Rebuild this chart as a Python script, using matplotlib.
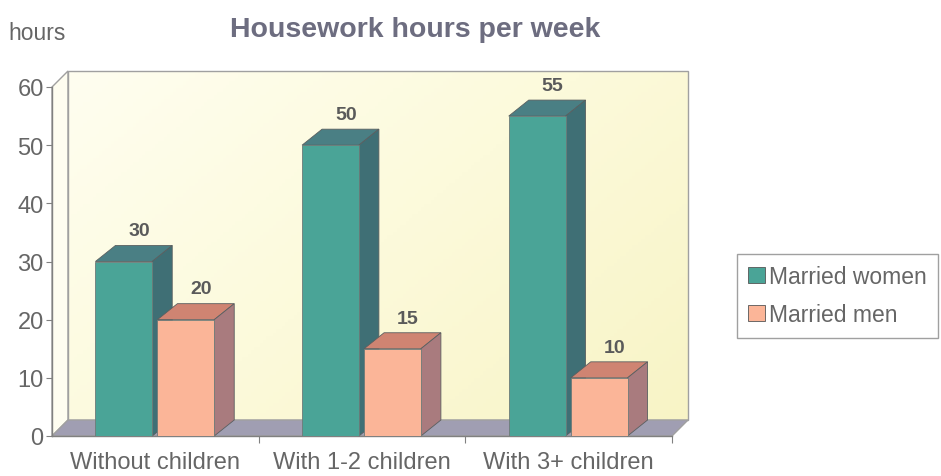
import matplotlib
matplotlib.use("Agg")
import matplotlib.pyplot as plt
import numpy as np
from matplotlib.colors import LinearSegmentedColormap
from matplotlib.patches import Polygon, Patch

categories = ["Without children", "With 1-2 children", "With 3+ children"]
women = [30, 50, 55]
men = [20, 15, 10]
series_names = ["Married women", "Married men"]
yticks = [0, 10, 20, 30, 40, 50, 60]

# colours: front / top / side faces
WOMEN_C = ("#4aa497", "#4a7f84", "#3f6f75")
MEN_C = ("#fbb598", "#cf8472", "#a97b7e")
TEXT_C = "#666666"
AXIS_C = "#808080"

W, H, DPI = 941, 477, 100
plt.rcParams["font.family"] = ["Liberation Sans", "DejaVu Sans"]
fig = plt.figure(figsize=(W / DPI, H / DPI), dpi=DPI)

# front plane of the plot box, in pixels
left_px, right_px, bottom_px, top_px = 52, 672, 437, 88
ax = fig.add_axes([left_px / W, 1 - bottom_px / H,
                   (right_px - left_px) / W, (bottom_px - top_px) / H])
ax.set_xlim(-0.5, len(categories) - 0.5)
ax.set_ylim(0, 60)
ax.set_facecolor("none")

ux = (len(categories)) / (right_px - left_px)
uy = 60 / (bottom_px - top_px)


def depth(dx_px, dy_px):
    return dx_px * ux, dy_px * uy


wdx, wdy = depth(16, 16)   # wall / floor depth
bdx, bdy = depth(20, 16)   # bar depth
x_lo, x_hi = ax.get_xlim()
y_hi = ax.get_ylim()[1]

# back wall with a soft diagonal yellow fill
wall_kw = dict(closed=True, clip_on=False, linewidth=1.0, edgecolor="#a0a0a0")
back = Polygon([(x_lo + wdx, wdy), (x_hi + wdx, wdy), (x_hi + wdx, y_hi + wdy),
                (x_lo + wdx, y_hi + wdy)], facecolor="none", zorder=0.3, **wall_kw)
ax.add_patch(back)
gx, gy = np.meshgrid(np.linspace(0, 1, 200), np.linspace(0, 1, 100))
grad = 0.6 * gx + 0.4 * gy
wall_cmap = LinearSegmentedColormap.from_list("wall", ["#fffef0", "#fcfadb", "#f8f4c6"])
img = ax.imshow(grad, cmap=wall_cmap, origin="upper", aspect="auto", zorder=0,
                extent=(x_lo + wdx, x_hi + wdx, wdy, y_hi + wdy), clip_path=back)
img.set_clip_box(fig.bbox)

ax.add_patch(Polygon([(x_lo, 0), (x_lo, y_hi), (x_lo + wdx, y_hi + wdy), (x_lo + wdx, wdy)],
                     facecolor="#fefdf0", zorder=0.2, **wall_kw))
ax.add_patch(Polygon([(x_lo, 0), (x_hi, 0), (x_hi + wdx, wdy), (x_lo + wdx, wdy)],
                     facecolor="#a09eb2", zorder=0.5, **wall_kw))
ax.set_xlim(x_lo, x_hi)
ax.set_ylim(0, y_hi)

bar_w = 0.275


def box(x0, h, cols, z):
    ax.bar(x0, h, width=bar_w, align="edge", color=cols[0], edgecolor="#6d7a78",
           linewidth=0.6, zorder=z + 0.2)
    x1 = x0 + bar_w
    ax.add_patch(Polygon([(x0, h), (x1, h), (x1 + bdx, h + bdy), (x0 + bdx, h + bdy)],
                         facecolor=cols[1], edgecolor="#5a5f60", linewidth=0.6,
                         clip_on=False, zorder=z))
    ax.add_patch(Polygon([(x1, 0), (x1, h), (x1 + bdx, h + bdy), (x1 + bdx, bdy)],
                         facecolor=cols[2], edgecolor="#5a5f60", linewidth=0.6,
                         clip_on=False, zorder=z))
    ax.annotate(str(h), xy=(x0 + bar_w / 2, h), xytext=(11, 16), textcoords="offset points",
                ha="center", va="bottom", fontsize=14, fontweight="bold", color="#5a5a5a",
                annotation_clip=False, zorder=10)


for i in range(len(categories)):
    box(i - 0.29, women[i], WOMEN_C, 2 + i * 2)
    box(i + 0.01, men[i], MEN_C, 3 + i * 2)

# axes styling
for s in ("top", "right"):
    ax.spines[s].set_visible(False)
for s in ("left", "bottom"):
    ax.spines[s].set_color(AXIS_C)
    ax.spines[s].set_linewidth(1.0)
    ax.spines[s].set_zorder(1)

ax.set_yticks(yticks)
ax.tick_params(axis="y", direction="out", length=4, color=AXIS_C, labelcolor=TEXT_C,
               labelsize=17, pad=2)
ax.set_xticks([i + 0.5 for i in range(len(categories))])
ax.set_xticklabels([])
ax.set_xticks(range(len(categories)), minor=True)
ax.set_xticklabels(categories, minor=True)
ax.tick_params(axis="x", which="major", direction="out", length=5, color=AXIS_C)
ax.tick_params(axis="x", which="minor", length=0, labelcolor=TEXT_C, labelsize=17, pad=11)

fig.text(415 / W, 1 - 30 / H, "Housework hours per week", ha="center", va="center",
         fontsize=20.5, fontweight="bold", color="#6d6d80")
fig.text(8 / W, 1 - 33 / H, "hours", ha="left", va="center", fontsize=16.5, color=TEXT_C)

handles = [Patch(facecolor=WOMEN_C[0], edgecolor="#555555", linewidth=0.6),
           Patch(facecolor=MEN_C[0], edgecolor="#555555", linewidth=0.6)]
leg = fig.legend(handles, series_names, loc="upper left",
                 bbox_to_anchor=(737 / W, 1 - 255 / H), fontsize=16.5,
                 handlelength=0.7, handleheight=0.7, handletextpad=0.2,
                 labelspacing=0.65, borderpad=0.5, fancybox=False, frameon=True,
                 labelcolor=TEXT_C, borderaxespad=0)
leg.get_frame().set_edgecolor("#888888")
leg.get_frame().set_linewidth(1.0)

fig.savefig("out.png", dpi=DPI)
